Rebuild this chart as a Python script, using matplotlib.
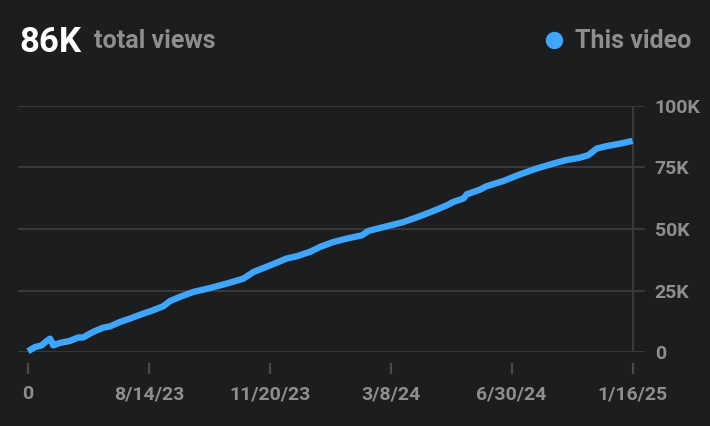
import matplotlib
matplotlib.use("Agg")
import matplotlib.pyplot as plt
from matplotlib.lines import Line2D
from matplotlib.ticker import FuncFormatter

# ---- data ----
tick_labels = ["0", "8/14/23", "11/20/23", "3/8/24", "6/30/24", "1/16/25"]
tick_pos = [0, 1, 2, 3, 4, 5]
x_pos = [0.0, 0.058, 0.113, 0.155, 0.182, 0.201, 0.209, 0.265, 0.347, 0.416,
         0.457, 0.513, 0.554, 0.623, 0.678, 0.761, 0.844, 0.954, 1.036, 1.119,
         1.175, 1.257, 1.367, 1.505, 1.644, 1.781, 1.864, 2.002, 2.140, 2.222,
         2.332, 2.415, 2.525, 2.636, 2.760, 2.815, 2.967, 3.104, 3.242, 3.352,
         3.463, 3.518, 3.601, 3.629, 3.739, 3.794, 3.931, 4.069, 4.208, 4.345,
         4.442, 4.566, 4.634, 4.704, 4.787, 4.897, 5.0]
views_k = [0.3, 2.0, 2.7, 4.5, 5.4, 3.7, 2.7, 3.7, 4.5, 5.9,
           5.9, 7.5, 8.5, 9.9, 10.4, 12.2, 13.6, 15.6, 17.0, 18.6,
           20.7, 22.4, 24.4, 26.0, 27.8, 29.8, 32.5, 35.2, 38.0, 38.9,
           40.7, 42.7, 44.7, 46.1, 47.4, 49.2, 51.1, 52.8, 55.2, 57.3,
           59.6, 61.0, 62.4, 64.1, 66.0, 67.4, 69.5, 72.2, 74.6, 76.6,
           77.9, 79.0, 80.0, 82.7, 83.7, 84.7, 85.8]
views = [v * 1000 for v in views_k]
y_ticks = [0, 25000, 50000, 75000, 100000]
total_label = "86K"

BG = "#1c1d1f"
BLUE = "#3ea6ff"
GRID = "#3a3a3a"
TXT = "#8e8e8e"

plt.rcParams['font.family'] = ['Roboto', 'DejaVu Sans']
plt.rcParams['font.weight'] = 'bold'

W, H = 710, 426
fig = plt.figure(figsize=(W / 100, H / 100), dpi=100, facecolor=BG)
ax = fig.add_axes([18 / W, 74 / H, (645 - 18) / W, (352 - 106) / H])
ax.set_facecolor(BG)

ax.set_xlim((18 - 28) / 120.9, (645 - 28) / 120.9)
ax.set_ylim(0, 100000)

for yt in y_ticks:
    ax.axhline(yt, color=GRID, lw=1.4, zorder=1)
ax.axvline(tick_pos[-1], color=GRID, lw=1.4, zorder=1)

ax.plot(x_pos, views, color=BLUE, lw=4.6, solid_capstyle='butt',
        solid_joinstyle='round', clip_on=False, zorder=3)

for s in ['top', 'left', 'right']:
    ax.spines[s].set_visible(False)
ax.spines['bottom'].set_position(('outward', 8))
ax.spines['bottom'].set_color('none')

ax.set_xticks(tick_pos)
ax.set_xticklabels(tick_labels)
ax.tick_params(axis='x', length=8, width=1.6, color="#4a4a4a", pad=8,
               labelsize=14, labelcolor=TXT)

ax.yaxis.tick_right()
ax.set_yticks(y_ticks)
ax.yaxis.set_major_formatter(FuncFormatter(lambda v, p: "0" if v == 0 else f"{int(v/1000)}K"))
ax.tick_params(axis='y', length=0, pad=7, labelsize=14, labelcolor=TXT)
for lab in ax.get_xticklabels() + ax.get_yticklabels():
    lab.set_fontweight('bold')

fig.text(19 / W, 1 - 52 / H, total_label, color="white", fontsize=25,
         fontweight='bold', va='baseline', ha='left')
fig.text(94 / W, 1 - 48 / H, "total views", color=TXT, fontsize=18,
         fontweight='bold', va='baseline', ha='left')
fig.text(575 / W, 1 - 48 / H, "This video", color=TXT, fontsize=18,
         fontweight='bold', va='baseline', ha='left')
fig.add_artist(Line2D([554 / W], [1 - 40 / H], marker='o', markersize=11.5,
                      color=BLUE, transform=fig.transFigure, lw=0))

fig.savefig("out.png", dpi=100, facecolor=BG)
